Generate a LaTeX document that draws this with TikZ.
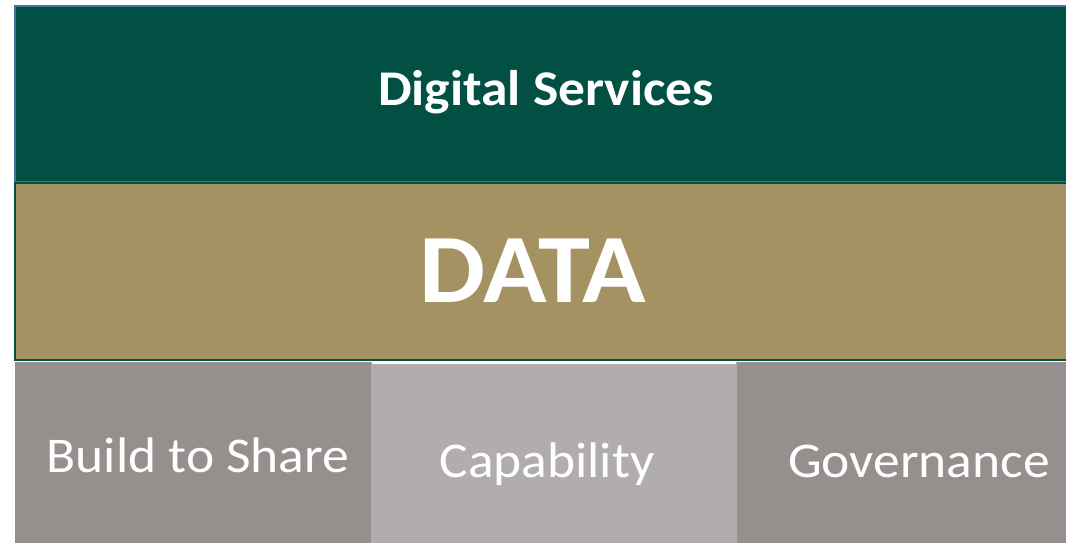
\documentclass[tikz,border=0pt]{standalone}
\usepackage{fontspec}
\setmainfont{Carlito}[FakeStretch=1.07]
\definecolor{dgreen}{HTML}{024F44}
\definecolor{bluebord}{HTML}{41719C}
\definecolor{tan}{HTML}{A49262}
\definecolor{greyA}{HTML}{958F8E}
\definecolor{greyB}{HTML}{B1ADAD}
\begin{document}
\begin{tikzpicture}[x=1pt,y=-1pt,
  lbl/.style={text=white,anchor=base,inner sep=0pt}]
\useasboundingbox (0,0) rectangle (1066,542);
\fill[white] (0,0) rectangle (1066,542);
% bottom row
\fill[greyA] (15,362) rectangle (371,545);
\fill[greyB] (371,362) rectangle (737,545);
\fill[greyA] (737,362) rectangle (1070,545);
\draw[white,line width=2pt] (372,363) -- (736,363);
% layers
\filldraw[fill=dgreen,draw=bluebord,line width=2pt] (15,6) rectangle (1070,182);
\filldraw[fill=tan,draw=dgreen,line width=2.5pt] (15,183) rectangle (1070,360);
\node[lbl,font=\bfseries\fontsize{50}{55}\selectfont] (ds) at (546,105) {Digital Services};
\node[lbl,font=\bfseries\fontsize{98}{105}\selectfont] (data) at (533,302) {DATA};
\node[lbl,font=\fontsize{50}{55}\selectfont] (b2s) at (198,472) {Build to Share};
\node[lbl,font=\fontsize{50}{55}\selectfont] (cap) at (547,477) {Capability};
\node[lbl,font=\fontsize{50}{55}\selectfont] (gov) at (919,477) {Governance};
\end{tikzpicture}
\end{document}
